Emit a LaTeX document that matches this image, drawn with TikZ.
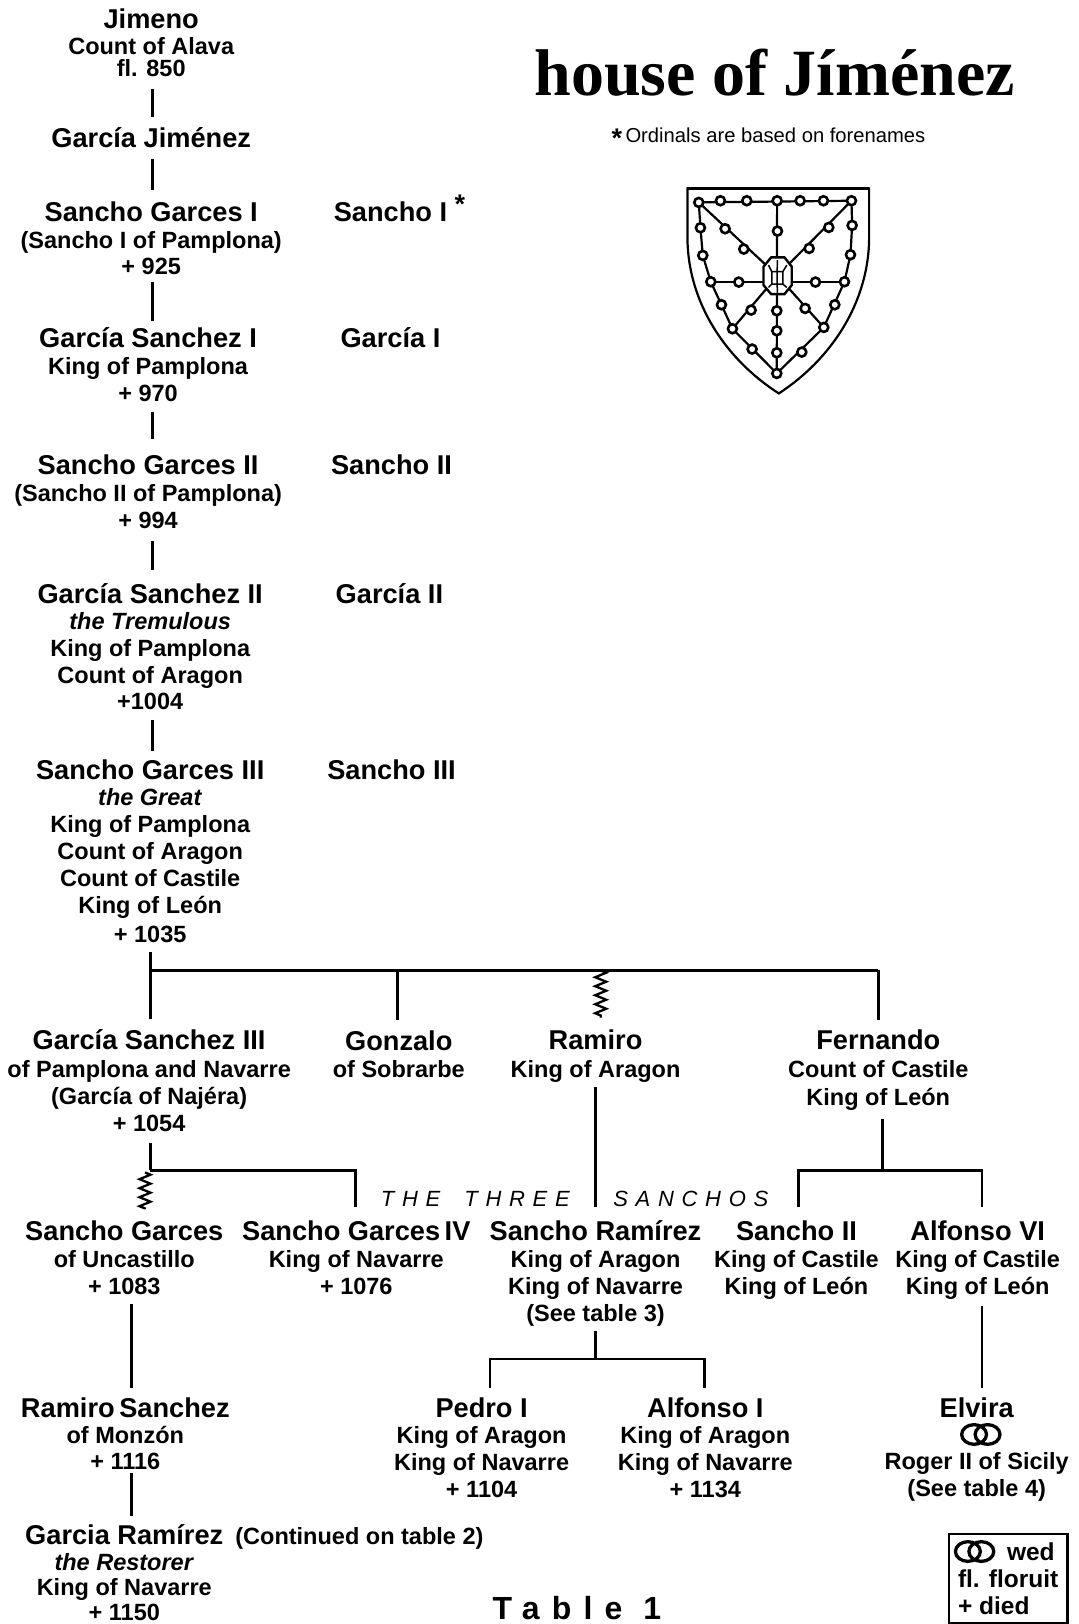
\documentclass[tikz,border=0pt]{standalone}
\usepackage{fontspec}
\setmainfont{Liberation Sans}
\newfontfamily\titlefont{Liberation Serif}
\usetikzlibrary{decorations.pathmorphing}
\newcommand{\St}{\rule[-8.1pt]{0pt}{27pt}}
\newcommand{\Nm}[1]{{\fontsize{27.2}{27}\selectfont\St #1}}
\newcommand{\Ln}[1]{\St #1}
\newcommand{\Itl}[1]{\St\textit{#1}}
\tikzset{
  person/.style={anchor=north,inner sep=0pt,align=center,font=\bfseries\fontsize{23.5}{27}\selectfont},
  link/.style={line width=2.7pt,line cap=butt},
  bus/.style={line width=3.3pt,line cap=butt},
  zig/.style={line width=2.3pt,decorate,decoration={zigzag,amplitude=5.5pt,segment length=9pt}},
  ringline/.style={line width=3.3pt},
  bead/.style={line width=2.6pt,fill=white},
  shieldline/.style={line width=2.2pt},
  spaced/.style={anchor=base,inner sep=0pt,font=\itshape\fontsize{22}{25}\selectfont\addfontfeature{LetterSpace=35}}
}
\newcommand{\Rings}[2]{\draw[ringline] (#1-6.5,#2) ellipse (12 and 9.5) (#1+6.5,#2) ellipse (12 and 9.5);}
\begin{document}
\begin{tikzpicture}[x=1.0355pt,y=-1.0355pt]
\fill[white] (0,0) rectangle (1041,1568);
\useasboundingbox (0,0) rectangle (1041,1568);

% title
\node[anchor=base,inner sep=0pt,font=\titlefont\bfseries\fontsize{66}{70}\selectfont] (title) at (748,92) {house of Jíménez};
\node[anchor=base,inner sep=0pt,font=\fontsize{20.2}{24}\selectfont] (note) at (742,138) {\raisebox{-5pt}{\bfseries\fontsize{27}{27}\selectfont *}\,Ordinals are based on forenames};

% trunk
\coordinate (t1) at (147,0);
\node[person] (jimeno) at (146,8) {\Nm{Jimeno}\\[-1pt]\Ln{Count of Alava}\\[-5pt]\Ln{fl. 850}};
\node[person] (garcia) at (146,123) {\Nm{García Jiménez}};
\node[person] (sg1) at (146,195) {\Nm{Sancho Garces I}\\\Ln{(Sancho I of Pamplona)}\\[-1pt]\Ln{+ 925}};
\node[person] (gs1) at (143,316) {\Nm{García Sanchez I}\\\Ln{King of Pamplona}\\\Ln{+ 970}};
\node[person] (sg2) at (143,439) {\Nm{Sancho Garces II}\\\Ln{(Sancho II of Pamplona)}\\\Ln{+ 994}};
\node[person] (gs2) at (145,563) {\Nm{García Sanchez II}\\[-1pt]\Itl{the Tremulous}\\\Ln{King of Pamplona}\\\Ln{Count of Aragon}\\[-1pt]\Ln{+1004}};
\node[person] (sg3) at (145,733) {\Nm{Sancho Garces III}\\[-1pt]\Itl{the Great}\\\Ln{King of Pamplona}\\\Ln{Count of Aragon}\\\Ln{Count of Castile}\\\Ln{King of León}\\[2pt]\Ln{+ 1035}};

% ordinals
\node[person] (o1) at (377,195) {\Nm{Sancho I}};
\node[anchor=base,inner sep=0pt,font=\bfseries\fontsize{27}{27}\selectfont] (o1star) at (444,206) {*};
\node[person] (o2) at (377,316) {\Nm{García I}};
\node[person] (o3) at (378,439) {\Nm{Sancho II}};
\node[person] (o4) at (376,563) {\Nm{García II}};
\node[person] (o5) at (378,733) {\Nm{Sancho III}};

% second row
\node[person] (gs3) at (144,994) {\Nm{García Sanchez III}\\[1pt]\Ln{of Pamplona and Navarre}\\\Ln{(García of Najéra)}\\\Ln{+ 1054}};
\node[person] (gonzalo) at (385,995) {\Nm{Gonzalo}\\\Ln{of Sobrarbe}};
\node[person] (ramiro) at (575,994) {\Nm{Ramiro}\\[1pt]\Ln{King of Aragon}};
\node[person] (fernando) at (848,994) {\Nm{Fernando}\\[1pt]\Ln{Count of Castile}\\[1pt]\Ln{King of León}};

% third row
\node[person] (su) at (120,1178) {\Nm{Sancho Garces}\\\Ln{of Uncastillo}\\\Ln{+ 1083}};
\node[person] (sg4) at (344,1178) {\Nm{Sancho Garces\hspace{-3pt} IV}\\\Ln{King of Navarre}\\\Ln{+ 1076}};
\node[person] (sr) at (575,1178) {\Nm{Sancho Ramírez}\\\Ln{King of Aragon}\\\Ln{King of Navarre}\\\Ln{(See table 3)}};
\node[person] (s2) at (769,1178) {\Nm{Sancho II}\\\Ln{King of Castile}\\\Ln{King of León}};
\node[person] (a6) at (944,1178) {\Nm{Alfonso VI}\\\Ln{King of Castile}\\\Ln{King of León}};
\node[spaced] (three) at (459,1165) {THE\hspace{24pt}THREE};
\node[spaced] (sanchos) at (667,1165) {SANCHOS};

% fourth row
\node[person] (rs) at (121,1349) {\Nm{Ramiro\hspace{-3pt} Sanchez}\\[-1pt]\Ln{of Monzón}\\[-1pt]\Ln{+ 1116}};
\node[person] (pedro) at (465,1349) {\Nm{Pedro I}\\[-1pt]\Ln{King of Aragon}\\\Ln{King of Navarre}\\\Ln{+ 1104}};
\node[person] (a1) at (681,1349) {\Nm{Alfonso I}\\[-1pt]\Ln{King of Aragon}\\\Ln{King of Navarre}\\\Ln{+ 1134}};
\node[person] (elvira) at (943,1349) {\Nm{Elvira}};
\node[person] (roger) at (943,1400) {\Ln{Roger II of Sicily}\\\Ln{(See table 4)}};
\Rings{947}{1385}

% bottom
\node[person] (gr) at (120,1472) {\Nm{Garcia Ramírez}\\[-1pt]\Itl{the Restorer}\\[-2pt]\Ln{King of Navarre}\\[-2pt]\Ln{+ 1150}};
\node[person] (cont) at (347,1473) {\Ln{(Continued on table 2)}};
\node[anchor=base,inner sep=0pt,font=\bfseries\fontsize{32}{34}\selectfont\addfontfeature{LetterSpace=38}] (tbl) at (557,1564) {Table 1};

% legend
\node[draw,line width=2.4pt,anchor=north west,inner xsep=6.5pt,inner ysep=0pt,align=left,minimum width=118.5pt,minimum height=89pt,font=\bfseries\fontsize{24.5}{27}\selectfont] (legend) at (915,1480) {\rule[-8.1pt]{0pt}{35pt}\hspace{49pt}wed\\\St{fl. floruit}\\\St{+ died}};
\Rings{941}{1498}

% connectors: trunk
\draw[link,shorten <=4pt,shorten >=10pt] (jimeno.south -| t1) -- (garcia.north -| t1);
\draw[link,shorten <=3pt,shorten >=12pt] (garcia.south -| t1) -- (sg1.north -| t1);
\draw[link,shorten <=-1pt,shorten >=6pt] (sg1.south -| t1) -- (gs1.north -| t1);
\draw[link,shorten <=2pt,shorten >=16pt] (gs1.south -| t1) -- (sg2.north -| t1);
\draw[link,shorten <=4pt,shorten >=13pt] (sg2.south -| t1) -- (gs2.north -| t1);
\draw[link,shorten <=2pt,shorten >=8pt] (gs2.south -| t1) -- (sg3.north -| t1);

% children of Sancho III
\coordinate (b1) at (145,937);
\coordinate (b2) at (384,937);
\coordinate (b3) at (580,937);
\coordinate (b4) at (848,937);
\draw[link,shorten <=2pt,shorten >=11pt] (sg3.south -| b1) -- (gs3.north -| b1);
\draw[bus] (b1) -- (b4);
\draw[link,shorten >=11pt] (b2) -- (gonzalo.north -| b2);
\draw[zig] (b3) -- ([yshift=12pt]ramiro.north -| b3);
\draw[link,shorten >=10pt] (b4) -- (fernando.north -| b4);

% children of Garcia III
\coordinate (j1) at (145,1130);
\coordinate (j1s) at (140,1132);
\coordinate (j1r) at (343,1130);
\draw[bus,shorten <=3pt] (gs3.south -| j1) -- (j1);
\draw[link] (j1) -- (j1r) -- ([yshift=13pt]sg4.north -| j1r);
\draw[zig] (j1s) -- ([yshift=11pt]su.north -| j1s);

% Ramiro to Sancho Ramirez
\draw[link,shorten <=1pt,shorten >=13pt] (ramiro.south) -- (sr.north);

% children of Fernando
\coordinate (j2) at (852,1130);
\coordinate (j2l) at (771,1130);
\coordinate (j2r) at (948,1130);
\draw[link,shorten <=5pt] (fernando.south -| j2) -- (j2);
\draw[link] ([yshift=13pt]s2.north -| j2l) -- (j2l) -- (j2r) -- ([yshift=13pt]a6.north -| j2r);

% lower lines
\coordinate (t2) at (127,0);
\draw[link,shorten <=2pt,shorten >=9pt] (su.south -| t2) -- (rs.north -| t2);
\draw[link,shorten <=-4pt,shorten >=9pt] (rs.south -| t2) -- (gr.north -| t2);
\coordinate (t3) at (948,0);
\draw[link,shorten <=4pt,shorten >=9pt] (a6.south -| t3) -- (elvira.north -| t3);
\coordinate (j3) at (575,1312);
\coordinate (j3l) at (473,1312);
\coordinate (j3r) at (680,1312);
\draw[link,shorten <=1pt] (sr.south) -- (j3);
\draw[link] ([yshift=9pt]pedro.north -| j3l) -- (j3l) -- (j3r) -- ([yshift=9pt]a1.north -| j3r);

% shield
\begin{scope}[shift={(647,164.2)},x=.3333pt,y=-.3333pt]
  \draw[line width=2.2pt] (52,200) -- (52,55) -- (597,55) -- (597,200)
    .. controls (597,400) and (480,570) .. (326,670)
    .. controls (170,570) and (52,400) .. (52,200);
  \draw[line width=3pt] (52,55) -- (597,55);
  \draw[shieldline] (86,97) -- (544,92) -- (546,166) -- (541,254) -- (523,335) -- (461,472) -- (320,610) -- (187,476) -- (122,335) -- (98,256) -- (91,173) -- (86,97);
  \draw[shieldline] (86,97) -- (322,317) -- (544,92);
  \draw[shieldline] (321,92) -- (320,610);
  \draw[shieldline] (122,335) -- (523,335);
  \draw[shieldline] (187,476) -- (322,317) -- (461,472);
  \draw[line width=2.4pt,fill=white] (303,262) -- (343,262) -- (365,290) -- (365,345) -- (343,372) -- (303,372) -- (280,345) -- (280,290) -- cycle;
  \draw[line width=1.5pt] (305,305) rectangle (338,342) (321,305) -- (321,342)
    (295,285) -- (305,305) (322,270) -- (321,305) (350,285) -- (338,305)
    (295,352) -- (305,342) (322,368) -- (321,342) (350,352) -- (338,342);
  \foreach \p in {(86,97),(151,92),(230,92),(321,92),(390,92),(460,92),(544,92),
    (546,166),(541,254),(523,335),(494,404),(461,472),(395,546),(320,610),
    (91,173),(98,256),(122,335),(154,404),(187,476),(246,537),
    (322,183),(320,422),(320,482),(320,548),
    (165,176),(221,237),(476,172),(417,235),(206,336),(436,336),(243,420),(405,415)}
    {\draw[bead] \p circle (4.5pt);}
\end{scope}
\end{tikzpicture}
\end{document}
